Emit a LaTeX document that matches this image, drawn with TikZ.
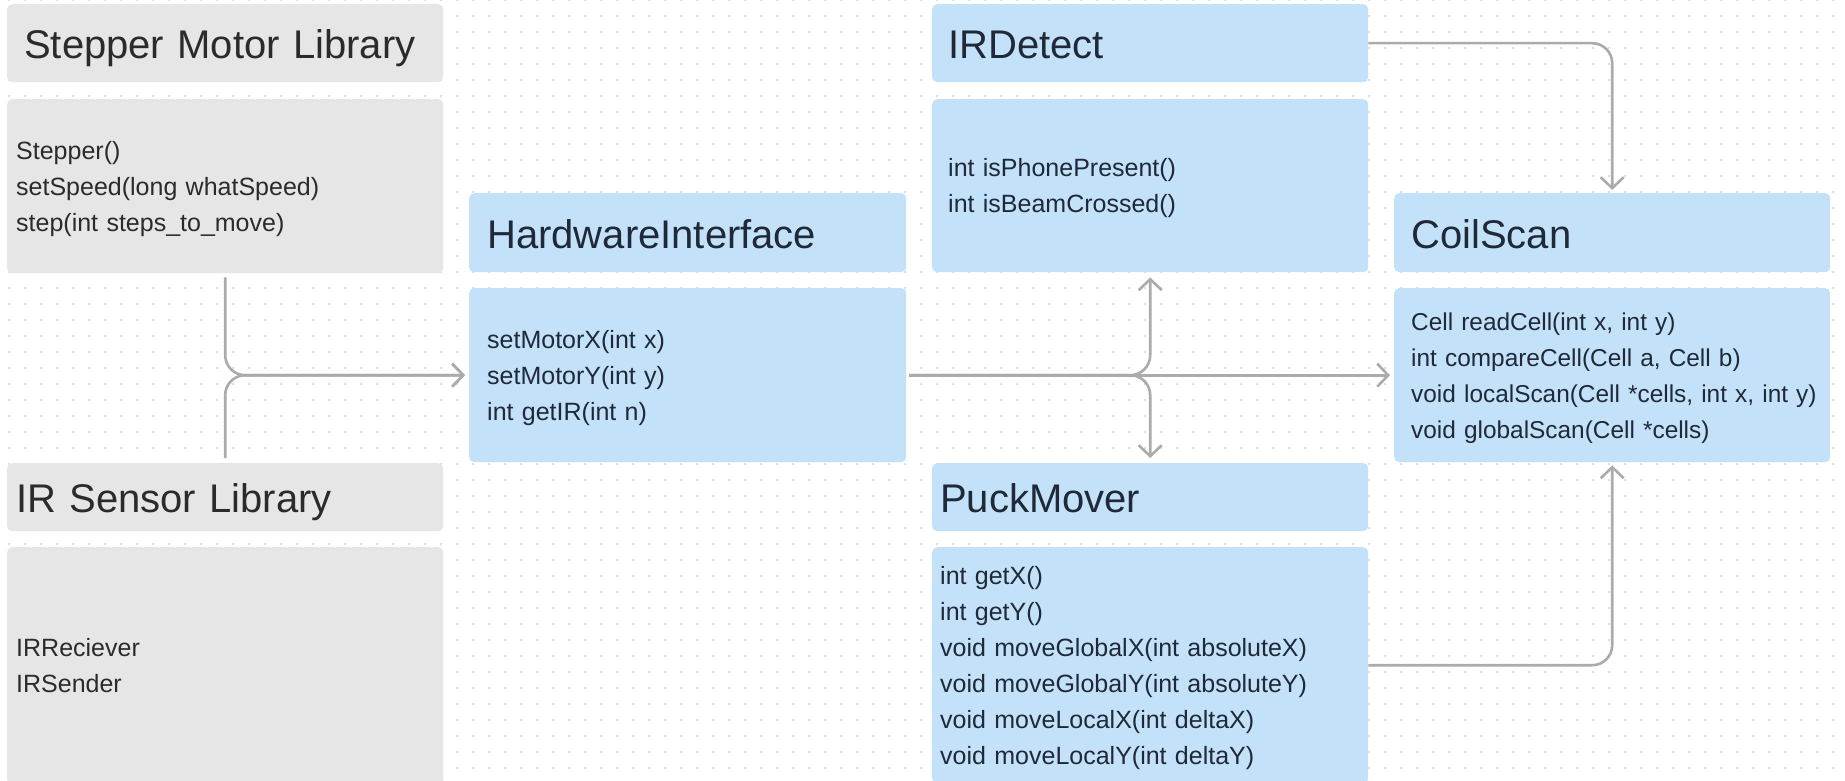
\documentclass[tikz,border=0pt]{standalone}
\usepackage{fontspec}
\setmainfont{Liberation Sans}
\usetikzlibrary{arrows.meta}
\definecolor{boxgray}{HTML}{E6E6E6}
\definecolor{boxblue}{HTML}{C4E1FA}
\definecolor{txtgray}{HTML}{2B2B2B}
\definecolor{txtblue}{HTML}{1F2937}
\definecolor{linec}{HTML}{ABABAB}
\definecolor{dotc}{HTML}{D4D4D4}
\newcommand\mtop{\rule{0pt}{26pt}}
\newcommand\mbot{\rule[-8pt]{0pt}{8pt}}
\begin{document}
\begin{tikzpicture}[x=1pt,y=-1pt,
  umlbox/.style={rectangle, rounded corners=5pt, anchor=north west, inner ysep=0pt, align=left, font=\fontsize{25}{36}\selectfont},
  graybox/.style={umlbox, fill=boxgray, text=txtgray},
  bluebox/.style={umlbox, fill=boxblue, text=txtblue},
  titlefont/.style={font=\fontsize{40}{48}\selectfont, text height=31pt, text depth=0pt},
  conn/.style={draw=linec, line width=2.6pt, rounded corners=20pt, -{Straight Barb[length=11pt,width=23pt]}},
]
\useasboundingbox[fill=white] (0,0) rectangle (1845,781);
\foreach \x in {9,25,...,1841} {
  \foreach \y in {0,16,...,780} {
    \fill[dotc] (\x,\y) circle[radius=1.1pt];
  }
}
% gray library boxes
\node[graybox, titlefont, text width=402pt, inner xsep=17pt, minimum height=78pt] (smlt) at (7,4) {Stepper Motor Library};
\node[graybox, text width=418pt, inner xsep=9pt, minimum height=174pt] (smlm) at (7,99) {\mtop Stepper()\\setSpeed(long whatSpeed)\\step(int steps\_to\_move)\mbot};
\node[graybox, titlefont, text width=418pt, inner xsep=9pt, minimum height=68pt] (irt) at (7,463) {IR Sensor Library};
\node[graybox, text width=418pt, inner xsep=9pt, minimum height=237pt] (irm) at (7,547) {\mtop IRReciever\\IRSender\mbot};
% HardwareInterface
\node[bluebox, titlefont, text width=401pt, inner xsep=18pt, minimum height=79pt] (hwt) at (469,193) {HardwareInterface};
\node[bluebox, text width=401pt, inner xsep=18pt, minimum height=174pt] (hwm) at (469,288) {\mtop setMotorX(int x)\\setMotorY(int y)\\int getIR(int n)\mbot};
% IRDetect
\node[bluebox, titlefont, text width=404pt, inner xsep=16pt, minimum height=78pt] (irdt) at (932,4) {IRDetect};
\node[bluebox, text width=404pt, inner xsep=16pt, minimum height=173pt] (irdm) at (932,99) {\mtop int isPhonePresent()\\int isBeamCrossed()\mbot};
% PuckMover
\node[bluebox, titlefont, text width=420pt, inner xsep=8pt, minimum height=68pt] (pmt) at (932,463) {PuckMover};
\node[bluebox, text width=420pt, inner xsep=8pt, minimum height=236pt] (pmm) at (932,547) {\mtop int getX()\\int getY()\\void moveGlobalX(int absoluteX)\\void moveGlobalY(int absoluteY)\\void moveLocalX(int deltaX)\\void moveLocalY(int deltaY)\mbot};
% CoilScan
\node[bluebox, titlefont, text width=402pt, inner xsep=17pt, minimum height=79pt] (cst) at (1394,193) {CoilScan};
\node[bluebox, font=\fontsize{24.4}{36}\selectfont, text width=402pt, inner xsep=17pt, minimum height=174pt] (csm) at (1394,288) {\mtop Cell readCell(int x, int y)\\int compareCell(Cell a, Cell b)\\\mbox{void localScan(Cell *cells, int x, int y)}\\void globalScan(Cell *cells)\mbot};
% connectors
\draw[conn, shorten <=4pt, shorten >=4pt] (smlm.south) |- (hwm.west);
\draw[conn, shorten <=5pt, shorten >=4pt] (irt.north) |- (hwm.west);
\draw[conn, shorten <=3pt, shorten >=4pt] (hwm.east) -- (csm.west);
\draw[conn, shorten <=3pt, shorten >=5pt] (hwm.east) -| (irdm.south);
\draw[conn, shorten <=3pt, shorten >=5pt] (hwm.east) -| (pmt.north);
\draw[conn, shorten >=3pt] (irdt.east) -| (cst.north);
\draw[conn, shorten >=3pt] (pmm.east) -| (csm.south);
\end{tikzpicture}
\end{document}
